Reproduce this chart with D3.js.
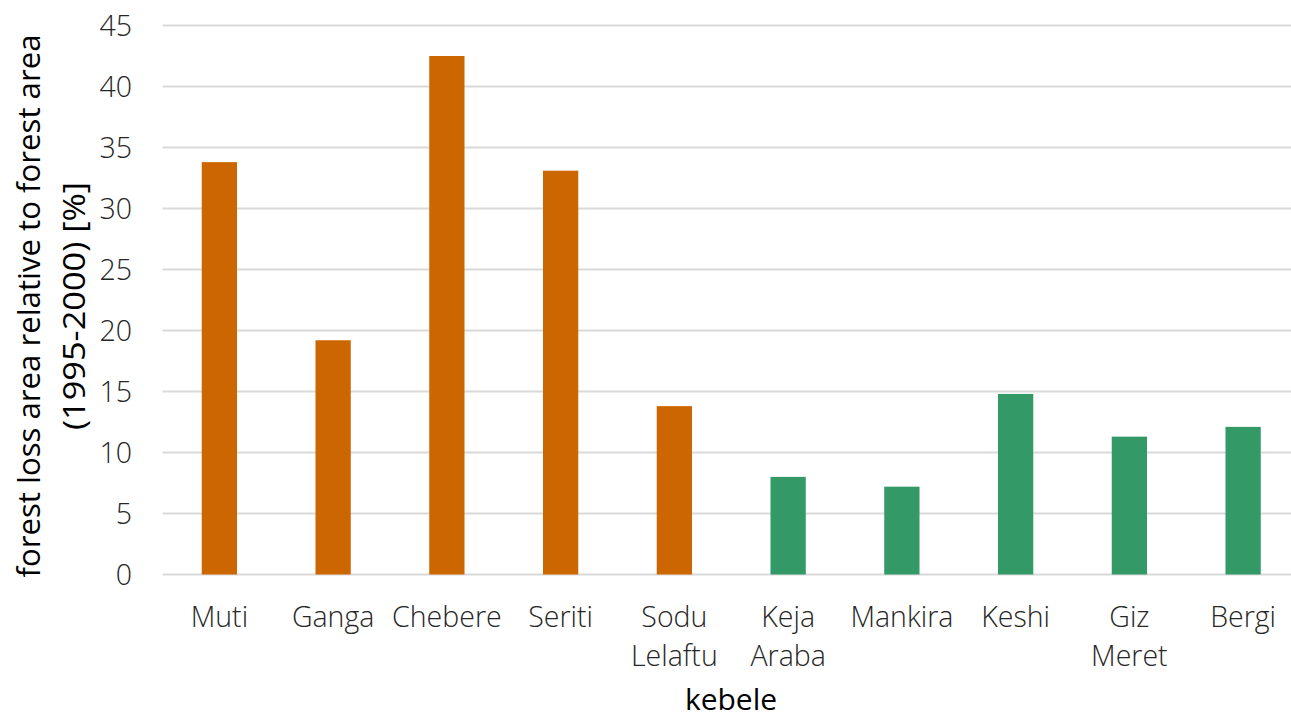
<!DOCTYPE html>
<html>
<head>
<meta charset="utf-8">
<script src="https://cdn.jsdelivr.net/npm/d3@7/dist/d3.min.js"></script>
<style>
  html, body { margin: 0; padding: 0; background: #fff; }
  svg { display: block; }
  text { font-family: "Open Sans", "Noto Sans", sans-serif; }
</style>
</head>
<body>
<svg id="chart" width="1291" height="719"></svg>
<script>
// Forest loss per kebele, relative to forest area in 1995-2000
const kebeles = ["Muti", "Ganga", "Chebere", "Seriti", "Sodu Lelaftu",
                 "Keja Araba", "Mankira", "Keshi", "Giz Meret", "Bergi"];
const lossPct = [33.8, 19.2, 42.5, 33.1, 13.8, 8.0, 7.2, 14.8, 11.3, 12.1];
const groupOf = ["a", "a", "a", "a", "a", "b", "b", "b", "b", "b"];
const yTicks = [0, 5, 10, 15, 20, 25, 30, 35, 40, 45];
const yTitleLines = ["forest loss area relative to forest area", "(1995-2000) [%]"];
const xTitle = "kebele";

const colours = { a: "#CC6600", b: "#339966" };

const svg = d3.select("#chart");
const W = 1291, H = 719;

const x = d3.scaleBand()
  .domain(kebeles)
  .range([162.5, 1300])
  .paddingInner(0.69)
  .paddingOuter(0.345);

const y = d3.scaleLinear()
  .domain([0, 45])
  .range([574.5, 25.5]);

// horizontal gridlines
svg.append("g")
  .selectAll("line")
  .data(yTicks)
  .join("line")
  .attr("x1", 162.5)
  .attr("x2", W)
  .attr("y1", d => y(d))
  .attr("y2", d => y(d))
  .attr("stroke", "#D9D9D9")
  .attr("stroke-width", 2);

// y tick labels
const yAxis = d3.axisLeft(y).tickValues(yTicks).tickSize(0).tickPadding(0);
const gy = svg.append("g").attr("transform", "translate(132,0)").call(yAxis);
gy.select(".domain").remove();
gy.selectAll("text")
  .attr("fill", "#262626")
  .style("font-size", "28.5px")
  .style("font-weight", 300)
  .attr("dy", "0.35em");

// bars
svg.append("g")
  .selectAll("rect")
  .data(kebeles)
  .join("rect")
  .attr("x", d => x(d))
  .attr("width", x.bandwidth())
  .attr("y", (d, i) => y(lossPct[i]))
  .attr("height", (d, i) => y(0) - y(lossPct[i]))
  .attr("fill", (d, i) => colours[groupOf[i]]);

// category labels (wrapped on spaces)
const labels = svg.append("g")
  .selectAll("text")
  .data(kebeles)
  .join("text")
  .attr("x", d => x(d) + x.bandwidth() / 2)
  .attr("y", 627)
  .attr("text-anchor", "middle")
  .attr("fill", "#262626")
  .style("font-size", "28.5px")
  .style("font-weight", 300);
labels.each(function (d) {
  const t = d3.select(this);
  d.split(" ").forEach((w, k) => {
    t.append("tspan")
      .attr("x", x(d) + x.bandwidth() / 2)
      .attr("dy", k === 0 ? 0 : 39)
      .text(w);
  });
});

// x axis title
svg.append("text")
  .attr("x", 731)
  .attr("y", 710)
  .attr("text-anchor", "middle")
  .attr("fill", "#000")
  .style("font-size", "30px")
  .text(xTitle);

// y axis title (two lines, rotated); line 1 fitted to the plot height
const yt = svg.append("text")
  .attr("transform", "translate(0,306) rotate(-90)")
  .attr("text-anchor", "middle")
  .attr("fill", "#000")
  .style("font-size", "31px");
yTitleLines.forEach((line, k) => {
  const ts = yt.append("tspan")
    .attr("x", 0)
    .attr("y", k === 0 ? 40 : 85)
    .text(line);
  if (k === 0) ts.attr("textLength", 543).attr("lengthAdjust", "spacingAndGlyphs");
  else ts.attr("textLength", 248).attr("lengthAdjust", "spacingAndGlyphs");
});
</script>
</body>
</html>
